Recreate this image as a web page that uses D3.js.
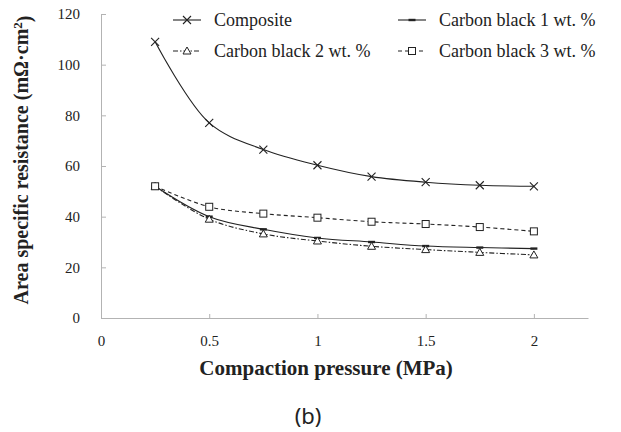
<!DOCTYPE html>
<html>
<head>
<meta charset="utf-8">
<script src="https://cdn.jsdelivr.net/npm/d3@7"></script>
<style>
  body { margin: 0; background: #fff; }
  svg { display: block; }
</style>
</head>
<body>
<div id="chart"></div>
<script>
// data
var pressure = [0.25, 0.5, 0.75, 1, 1.25, 1.5, 1.75, 2];
var composite = [109, 77, 66.5, 60.3, 55.8, 53.6, 52.4, 52.0];
var cb1 = [52, 40.0, 35.0, 31.6, 30.0, 28.4, 27.8, 27.4];
var cb2 = [52, 39.0, 33.2, 30.4, 28.3, 27.0, 25.9, 24.9];
var cb3 = [52, 43.9, 41.2, 39.6, 38.0, 37.1, 35.9, 34.2];
var xTicks = [0, 0.5, 1, 1.5, 2];
var yTicks = [0, 20, 40, 60, 80, 100, 120];

var series = [
    {name: "Composite", values: composite, dash: null, marker: "x"},
    {name: "Carbon black 1 wt. %", values: cb1, dash: null, marker: "bar"},
    {name: "Carbon black 2 wt. %", values: cb2, dash: "5,2,1.5,2", marker: "tri"},
    {name: "Carbon black 3 wt. %", values: cb3, dash: "4,3", marker: "sq"}
];

var W = 621, H = 432;
var margin = {top: 14, right: 33, bottom: 114, left: 101},
    width = W - margin.left - margin.right,
    height = H - margin.top - margin.bottom;

var serif = "Liberation Serif, Times New Roman, serif";

var svg = d3.select("#chart").append("svg")
    .attr("width", W)
    .attr("height", H);

var g = svg.append("g")
    .attr("transform", "translate(" + margin.left + "," + margin.top + ")");

var x = d3.scaleLinear().domain([0, 2.25]).range([0, width]);
var y = d3.scaleLinear().domain([0, 120]).range([height, 0]);

var axisColor = "#b3b3b3";
var ink = "#222";

// x axis, ticks pointing up into the plot
var xAxis = g.append("g")
    .attr("transform", "translate(0," + height + ")")
    .call(d3.axisBottom(x).tickValues(xTicks).tickSizeInner(-4).tickSizeOuter(0).tickPadding(17)
        .tickFormat(function(d) { return d; }));
xAxis.select(".domain").attr("stroke", axisColor);
xAxis.selectAll(".tick line").attr("stroke", axisColor);
xAxis.selectAll(".tick").filter(function(d) { return d === 0; }).select("line").remove();

// y axis, ticks pointing right
var yAxis = g.append("g")
    .call(d3.axisLeft(y).tickValues(yTicks).tickSizeInner(-5).tickSizeOuter(0).tickPadding(21));
yAxis.select(".domain").attr("stroke", axisColor);
yAxis.selectAll(".tick line").attr("stroke", axisColor);

[xAxis, yAxis].forEach(function(ax) {
    ax.attr("font-family", serif).attr("font-size", 15);
    ax.selectAll(".tick text")
        .attr("font-family", serif)
        .style("font-family", serif)
        .style("font-size", "15px")
        .attr("fill", ink);
});

// lines
var line = d3.line()
    .x(function(d, i) { return x(pressure[i]); })
    .y(function(d) { return y(d); })
    .curve(d3.curveCatmullRom.alpha(0.5));

series.forEach(function(s) {
    g.append("path")
        .datum(s.values)
        .attr("d", line)
        .attr("fill", "none")
        .attr("stroke", ink)
        .attr("stroke-width", 1.1)
        .attr("stroke-dasharray", s.dash);
});

function drawMarker(sel, type, cx, cy) {
    if (type == "x") {
        sel.append("path")
            .attr("d", "M" + (cx - 4) + "," + (cy - 4) + "L" + (cx + 4) + "," + (cy + 4) +
                "M" + (cx - 4) + "," + (cy + 4) + "L" + (cx + 4) + "," + (cy - 4))
            .attr("stroke", ink).attr("stroke-width", 1.1).attr("fill", "none");
    } else if (type == "bar") {
        sel.append("rect")
            .attr("x", cx - 3.5).attr("y", cy - 1.2).attr("width", 7).attr("height", 2.4)
            .attr("fill", ink);
    } else if (type == "tri") {
        sel.append("path")
            .attr("d", "M" + cx + "," + (cy - 4) + "L" + (cx + 4) + "," + (cy + 3) + "L" + (cx - 4) + "," + (cy + 3) + "Z")
            .attr("fill", "#fff").attr("stroke", ink).attr("stroke-width", 1);
    } else if (type == "sq") {
        sel.append("rect")
            .attr("x", cx - 3.5).attr("y", cy - 3.5).attr("width", 7).attr("height", 7)
            .attr("fill", "#fff").attr("stroke", ink).attr("stroke-width", 1);
    }
}

// markers, drawn after all lines
series.forEach(function(s) {
    var mg = g.append("g");
    s.values.forEach(function(v, i) {
        drawMarker(mg, s.marker, x(pressure[i]), y(v));
    });
});

// legend
var legendPos = [[173, 20], [398, 20], [173, 51], [398, 51]];
series.forEach(function(s, i) {
    var lx = legendPos[i][0], ly = legendPos[i][1];
    var lg = svg.append("g");
    lg.append("line")
        .attr("x1", lx).attr("x2", lx + 28)
        .attr("y1", ly).attr("y2", ly)
        .attr("stroke", ink).attr("stroke-width", 1.1)
        .attr("stroke-dasharray", s.dash);
    drawMarker(lg, s.marker, lx + 14, ly);
    lg.append("text")
        .attr("x", lx + 41).attr("y", ly)
        .attr("dy", "0.35em")
        .style("font-family", serif)
        .style("font-size", "18px")
        .attr("fill", ink)
        .text(s.name);
});

// axis titles
svg.append("text")
    .attr("x", margin.left + x(1.04)).attr("y", 375)
    .attr("text-anchor", "middle")
    .style("font-family", serif)
    .style("font-size", "21px").style("font-weight", "bold")
    .attr("fill", ink)
    .text("Compaction pressure (MPa)");

var yt = svg.append("text")
    .attr("transform", "translate(28," + 160 + ") rotate(-90)")
    .attr("text-anchor", "middle")
    .style("font-family", serif)
    .style("font-size", "20px").style("font-weight", "bold")
    .attr("fill", ink);
yt.append("tspan").text("Area specific resistance (mΩ·cm");
yt.append("tspan").attr("dy", "-0.45em").style("font-size", "13px").text("2");
yt.append("tspan").attr("dy", "0.45em").text(")");

svg.append("text")
    .attr("x", 308).attr("y", 424)
    .attr("text-anchor", "middle")
    .style("font-family", "Noto Sans, sans-serif")
    .style("font-size", "22px")
    .attr("fill", ink)
    .text("(b)");
</script>
</body>
</html>
